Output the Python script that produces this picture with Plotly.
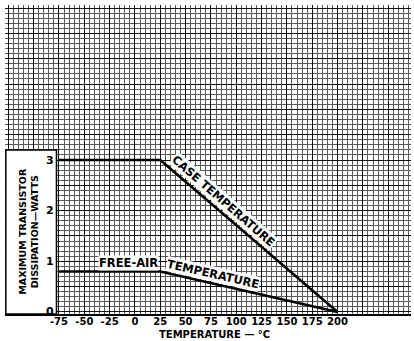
import plotly.graph_objects as go

# ---- data ----
case_temp = [-75, 25, 200]
case_watts = [3.0, 3.0, 0.0]
free_temp = [-75, 25, 200]
free_watts = [0.8, 0.8, 0.0]

x_ticks = [-75, -50, -25, 0, 25, 50, 75, 100, 125, 150, 175, 200]
x_ticklabels = ["-75", "-50", "-25", "0", "25", "50", "75", "100", "125", "150", "175", "200"]
y_ticks = [0, 1, 2, 3]
y_ticklabels = ["0", "1", "2", "3"]

x_title = "TEMPERATURE — °C"
y_title = "MAXIMUM TRANSISTOR<br>DISSIPATION—WATTS"

FONT = "DejaVu Sans"
XR = [-128.3, 272.5]
YR = [-0.04, 6.06]

fig = go.Figure()
fig.add_trace(go.Scatter(x=case_temp, y=case_watts, mode="lines",
                         line=dict(color="black", width=2.6), showlegend=False, hoverinfo="skip"))
fig.add_trace(go.Scatter(x=free_temp, y=free_watts, mode="lines",
                         line=dict(color="black", width=2.6), showlegend=False, hoverinfo="skip"))
# invisible trace to carry the labelled overlay axis
fig.add_trace(go.Scatter(x=[x_ticks[0]], y=[0], xaxis="x2", mode="markers",
                         marker=dict(opacity=0), showlegend=False, hoverinfo="skip"))

fig.update_layout(
    template="none",
    width=414, height=341,
    margin=dict(l=5, r=3, t=5, b=27, autoexpand=False),
    paper_bgcolor="white", plot_bgcolor="white",
    xaxis=dict(range=XR, tick0=0, dtick=25, showgrid=True, gridcolor="#111111", gridwidth=1.4,
               showticklabels=False, ticks="", zeroline=False, automargin=False,
               showline=True, linecolor="black", linewidth=2,
               minor=dict(dtick=5, tick0=0, showgrid=True, gridcolor="#5a5a5a", gridwidth=1)),
    xaxis2=dict(range=XR, overlaying="x", matches="x", side="bottom", anchor="y",
                tickmode="array", tickvals=x_ticks, ticktext=x_ticklabels, tickangle=0,
                showgrid=False, zeroline=False, ticks="", ticklabelstandoff=0, automargin=False,
                tickfont=dict(family=FONT, size=10, color="black", weight="bold")),
    yaxis=dict(range=YR, tick0=0, dtick=0.5, showgrid=True, gridcolor="#111111", gridwidth=1.4,
               showticklabels=False, ticks="", zeroline=False, automargin=False,
               minor=dict(dtick=0.1, tick0=0, showgrid=True, gridcolor="#5a5a5a", gridwidth=1)),
)

# white label box on the left
fig.add_shape(type="rect", xref="x", yref="y", x0=-127.5, x1=-77.5, y0=-0.04, y1=3.2,
              fillcolor="white", line=dict(color="black", width=1.5), layer="above")

for v, t in zip(y_ticks, y_ticklabels):
    fig.add_annotation(x=-84, y=v, xref="x", yref="y", text=t, showarrow=False,
                       font=dict(family=FONT, size=11, color="black", weight="bold"))

fig.add_annotation(x=-106, y=(312 - 232) / 50.67, xref="x", yref="y", text=y_title, showarrow=False,
                   textangle=-90, font=dict(family=FONT, size=9.5, color="black", weight="bold"))

fig.add_annotation(x=214 / 414, y=(314 - 334.5) / 309, xref="paper", yref="paper", text=x_title,
                   showarrow=False, yanchor="middle",
                   font=dict(family=FONT, size=10, color="black", weight="bold"))

# curve labels
fig.add_annotation(x=87.5, y=2.2, xref="x", yref="y", text="CASE TEMPERATURE", showarrow=False,
                   textangle=41, bgcolor="white", borderpad=0,
                   font=dict(family=FONT, size=11.5, color="black", weight="bold"))
fig.add_annotation(x=-6, y=0.975, xref="x", yref="y", text="FREE-AIR", showarrow=False,
                   bgcolor="white", borderpad=0,
                   font=dict(family=FONT, size=11.5, color="black", weight="bold"))
fig.add_annotation(x=77, y=0.755, xref="x", yref="y", text="TEMPERATURE", showarrow=False,
                   textangle=12.9, bgcolor="white", borderpad=0,
                   font=dict(family=FONT, size=11.5, color="black", weight="bold"))

fig.write_html("out.html", config={"displayModeBar": False},
               post_script="document.body.style.margin='0';")
